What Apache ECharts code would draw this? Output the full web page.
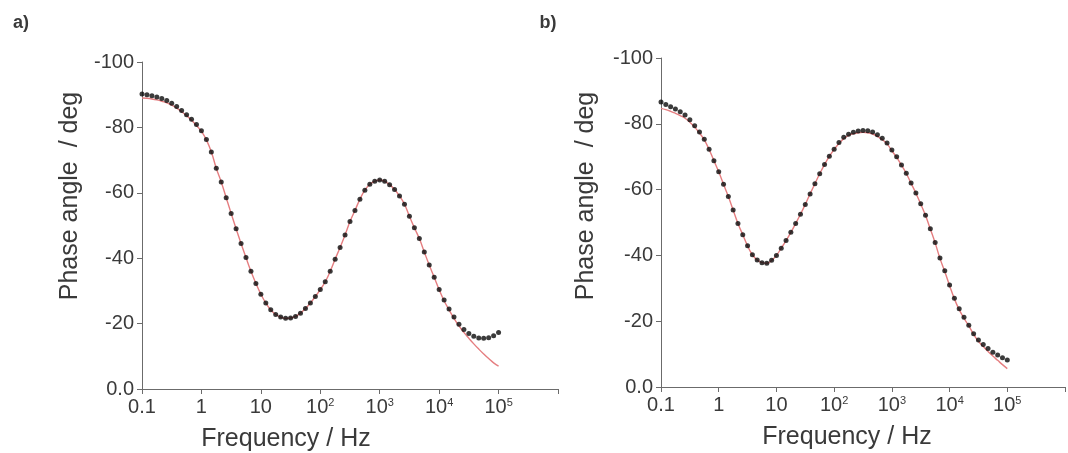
<!DOCTYPE html>
<html>
<head>
<meta charset="utf-8">
<script src="https://cdn.jsdelivr.net/npm/echarts@6/dist/echarts.min.js"></script>
<style>
  html, body { margin: 0; padding: 0; background: #fff; }
  #chart { width: 1068px; height: 453px; }
</style>
</head>
<body>
<div id="chart"></div>
<script>
// frequency points, 12 per decade (Hz)
var freq = [
  0.1, 0.1212, 0.1468, 0.1778, 0.2154, 0.2610, 0.3162, 0.3831, 0.4642, 0.5623, 0.6813, 0.8254,
  1, 1.212, 1.468, 1.778, 2.154, 2.610, 3.162, 3.831, 4.642, 5.623, 6.813, 8.254,
  10, 12.12, 14.68, 17.78, 21.54, 26.10, 31.62, 38.31, 46.42, 56.23, 68.13, 82.54,
  100, 121.2, 146.8, 177.8, 215.4, 261.0, 316.2, 383.1, 464.2, 562.3, 681.3, 825.4,
  1000, 1212, 1468, 1778, 2154, 2610, 3162, 3831, 4642, 5623, 6813, 8254,
  10000, 12120, 14680, 17780, 21540, 26100, 31620, 38310, 46420, 56230, 68130, 82540,
  100000
];

// panel a) measured phase (deg)
var phaseA = [
  -90.2, -90.0, -89.7, -89.3, -88.8, -88.2, -87.4, -86.4, -85.2, -83.9, -82.5, -80.9,
  -79.0, -76.3, -72.5, -67.5, -63.3, -58.5, -53.7, -49.0, -44.5, -40.2, -36.0, -32.3,
  -29.0, -26.3, -24.2, -22.8, -22.0, -21.6, -21.7, -22.2, -23.2, -24.6, -26.3, -28.3,
  -30.4, -32.8, -36.0, -39.7, -43.3, -47.1, -51.2, -54.6, -58.0, -60.8, -62.6, -63.5,
  -63.9, -63.5, -62.5, -61.0, -59.0, -56.5, -52.8, -49.3, -46.0, -41.9, -37.9, -34.2,
  -30.4, -27.2, -24.5, -22.0, -19.8, -18.2, -17.0, -16.1, -15.6, -15.5, -15.7, -16.3,
  -17.3
];
// panel a) fitted curve
var fitA = [
  -89.0, -88.9, -88.7, -88.4, -88.0, -87.5, -86.8, -85.9, -84.8, -83.6, -82.2, -80.6,
  -78.8, -76.2, -72.5, -67.5, -63.3, -58.5, -53.7, -49.0, -44.5, -40.2, -36.0, -32.3,
  -29.0, -26.3, -24.2, -22.8, -22.0, -21.6, -21.7, -22.2, -23.2, -24.6, -26.3, -28.3,
  -30.4, -32.8, -36.0, -39.7, -43.3, -47.1, -51.2, -54.6, -58.0, -60.8, -62.6, -63.5,
  -63.9, -63.5, -62.5, -61.0, -59.0, -56.5, -52.8, -49.3, -46.0, -41.9, -37.9, -34.2,
  -30.4, -27.0, -24.2, -21.6, -19.3, -17.3, -15.5, -13.8, -12.2, -10.7, -9.3, -8.0,
  -7.0
];

// panel b) measured phase (deg)
var phaseB = [
  -86.6, -85.9, -85.2, -84.5, -83.7, -82.7, -81.2, -79.4, -77.5, -75.3, -72.3, -68.8,
  -65.4, -61.6, -57.9, -53.8, -49.7, -46.3, -42.9, -40.2, -38.6, -37.8, -37.6, -38.5,
  -40.0, -42.2, -44.5, -47.0, -49.7, -52.5, -55.5, -58.7, -61.8, -64.8, -67.6, -70.1,
  -72.3, -74.3, -75.9, -76.8, -77.4, -77.8, -78.0, -77.9, -77.5, -76.7, -75.6, -74.2,
  -72.0, -70.0, -67.5, -65.0, -62.0, -59.0, -55.7, -52.2, -48.1, -43.9, -39.2, -35.3,
  -31.0, -27.0, -23.8, -21.2, -18.8, -16.2, -14.3, -12.9, -11.7, -10.6, -9.7, -8.9,
  -8.2
];
// panel b) fitted curve
var fitB = [
  -84.7, -84.3, -83.8, -83.2, -82.5, -81.7, -80.5, -79.0, -77.2, -75.1, -72.2, -68.8,
  -65.4, -61.6, -57.9, -53.8, -49.7, -46.3, -42.9, -40.2, -38.6, -37.8, -37.6, -38.5,
  -40.0, -42.2, -44.5, -47.0, -49.7, -52.5, -55.5, -58.7, -61.8, -64.8, -67.6, -70.1,
  -72.2, -74.0, -75.5, -76.5, -77.0, -77.3, -77.4, -77.3, -76.9, -76.2, -75.2, -73.9,
  -71.8, -69.8, -67.4, -64.9, -61.9, -58.9, -55.6, -52.1, -48.0, -43.8, -39.1, -35.1,
  -30.8, -26.8, -23.5, -20.9, -18.6, -16.0, -13.9, -12.3, -10.8, -9.4, -8.1, -6.8,
  -5.6
];

var xTickText = { '-1': '0.1', '0': '1', '1': '10', '2': '10{s|2}', '3': '10{s|3}', '4': '10{s|4}', '5': '10{s|5}' };

function pairs(ys) {
  return freq.map(function (f, i) { return [f, ys[i]]; });
}

var axisCol = '#6b6b6b';
var txtCol = '#3a3a3a';
var font = 'Liberation Sans, Arial, sans-serif';

function xAxisFor(idx) {
  return {
    gridIndex: idx, type: 'log', logBase: 10, min: 0.1, max: 1e6,
    axisLine: { lineStyle: { color: axisCol, width: 1 } },
    axisTick: { inside: false, length: 5, lineStyle: { color: axisCol } },
    splitLine: { show: false },
    minorTick: { show: false },
    axisLabel: {
      color: txtCol, fontSize: 20, fontFamily: font, margin: 8,
      formatter: function (v) {
        var e = Math.round(Math.log10(v));
        return xTickText[String(e)] || '';
      },
      rich: { s: { fontSize: 11, verticalAlign: 'top', color: txtCol, fontFamily: font } }
    }
  };
}

function yAxisFor(idx) {
  return {
    gridIndex: idx, type: 'value', min: -100, max: 0, interval: 20, inverse: true,
    axisLine: { show: true, lineStyle: { color: axisCol, width: 1 } },
    axisTick: { show: true, length: 5, lineStyle: { color: axisCol } },
    splitLine: { show: false },
    axisLabel: {
      color: txtCol, fontSize: 20, fontFamily: font, margin: 8,
      formatter: function (v) { return v === 0 ? '0.0' : String(v); }
    }
  };
}

function fitSeries(idx, ys) {
  return {
    type: 'line', xAxisIndex: idx, yAxisIndex: idx, data: pairs(ys),
    smooth: true, showSymbol: false, symbol: 'none', z: 2,
    lineStyle: { color: '#e57e80', width: 1.4 }
  };
}
function dotSeries(idx, ys) {
  return {
    type: 'scatter', xAxisIndex: idx, yAxisIndex: idx, data: pairs(ys),
    symbol: 'circle', symbolSize: 5, z: 3,
    itemStyle: { color: '#0a0a0a' }
  };
}

function label(text, x, y, size, rot, weight) {
  return {
    type: 'text', x: x, y: y, rotation: rot || 0,
    style: {
      text: text, fill: txtCol, font: (weight || 'normal') + ' ' + size + 'px ' + font,
      align: 'center', verticalAlign: 'middle'
    }
  };
}

var chart = echarts.init(document.getElementById('chart'));
chart.setOption({
  animation: false,
  backgroundColor: '#fff',
  grid: [
    { left: 142, top: 62, width: 416, height: 327 },
    { left: 661, top: 58, width: 414, height: 329 }
  ],
  xAxis: [xAxisFor(0), xAxisFor(1)],
  yAxis: [yAxisFor(0), yAxisFor(1)],
  series: [
    fitSeries(0, fitA), dotSeries(0, phaseA),
    fitSeries(1, fitB), dotSeries(1, phaseB)
  ],
  graphic: [
    label('a)', 21, 23, 18, 0, 'bold'),
    label('b)', 548, 23, 18, 0, 'bold'),
    label('Phase angle  / deg', 70, 196, 25, Math.PI / 2),
    label('Phase angle  / deg', 586, 196, 25, Math.PI / 2),
    label('Frequency / Hz', 286, 439, 25),
    label('Frequency / Hz', 847, 437, 25)
  ]
});
</script>
</body>
</html>
